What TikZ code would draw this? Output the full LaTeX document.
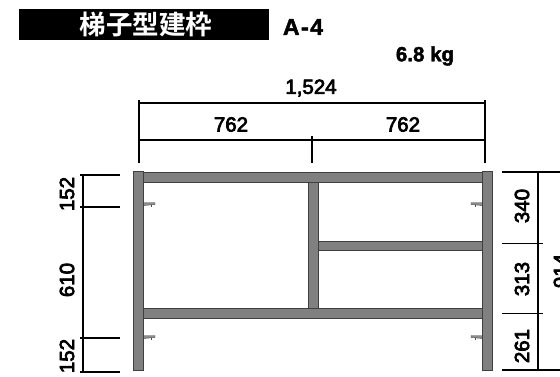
\documentclass[tikz,border=0pt]{standalone}
\usepackage{fontspec}
\setmainfont{Liberation Sans}
\newfontfamily\cjkfont{Noto Sans CJK JP}[BoldFont={Noto Sans CJK JP Bold}]
\newfontfamily\dimfont{Liberation Sans}[FakeBold=3.5]
\newfontfamily\headfont{Liberation Sans Bold}[FakeBold=2]
\tikzset{
  dimline/.style={draw=black,line width=1.5pt},
  member/.style={draw=black!75,fill=black!50,line width=0.6pt},
  dimtext/.style={font=\dimfont\fontsize{20.5}{22}\selectfont,text=black,inner sep=0pt},
  dimrot/.style={dimtext,rotate=90},
  pin/.style={draw=black!70,fill=black!45,line width=0.4pt},
}
\begin{document}
\begin{tikzpicture}[x=1pt,y=-1pt]
\useasboundingbox (0,0) rectangle (560,376);
\clip (0,0) rectangle (560,376);
% title
\node[fill=black,minimum width=250pt,minimum height=31pt,inner sep=0pt] (title) at (144,24.5) {};
\node[inner sep=0pt,text=white,font=\cjkfont\bfseries\fontsize{26.5}{28}\selectfont] (titletext) at (146,24.5) {梯子型建枠};
\node[text=black,inner sep=0pt,font=\headfont\fontsize{23}{24}\selectfont] (code) at (303,27) {A\kern1.5pt-\kern1.5pt4};
\node[text=black,inner sep=0pt,font=\headfont\fontsize{20.5}{22}\selectfont] (mass) at (425,56) {6.8 kg};
% top dimensions
\node[dimtext] (wAll) at (311,88) {1,524};
\node[dimtext] (wL) at (231,124.5) {762};
\node[dimtext] (wR) at (403,124.5) {762};
\draw[dimline] (139,100)--(139,163) (485,100)--(485,163) (312,136)--(312,163);
\draw[dimline] (139,103)--(485,103) (139,140)--(485,140);
% left dimensions
\draw[dimline] (83,174)--(83,372) (80,175)--(120,175) (80,207)--(120,207) (80,338)--(120,338) (80,372)--(120,372);
\node[dimrot] (hA) at (67,194) {152};
\node[dimrot] (hB) at (67,280) {610};
\node[dimrot] (hC) at (67,356) {152};
% right dimensions
\draw[dimline] (538,172)--(538,370) (502,172)--(560,172) (502,243.7)--(543,243.7) (502,313.7)--(543,313.7) (502,370)--(560,370);
\node[dimrot] (rA) at (522,206) {340};
\node[dimrot] (rB) at (522,279) {313};
\node[dimrot] (rC) at (522,346) {261};
\node[dimrot] (rAll) at (561,271) {914};
% pins
\foreach \yy in {204.5,337.5}{
  \draw[pin] (143.5,\yy-2) -- (155,\yy-2) -- (155,\yy) -- (143.5,\yy+1) -- cycle;
  \draw[black!70,line width=0.5pt] (151,\yy) -- (151,\yy+2);
  \draw[pin] (482.5,\yy-2) -- (471,\yy-2) -- (471,\yy) -- (482.5,\yy+1) -- cycle;
  \draw[black!70,line width=0.5pt] (475,\yy) -- (475,\yy+2);
}
% frame
\draw[member] (143.5,172) rectangle (482.5,182);
\draw[member] (143.5,308.5) rectangle (482.5,318.5);
\draw[member] (318,241) rectangle (482.5,250.5);
\draw[member] (308,182) rectangle (318,308.5);
\draw[member] (133.5,171.5) rectangle (143.5,370);
\draw[member] (482.5,171.5) rectangle (492.5,370);
\end{tikzpicture}
\end{document}
